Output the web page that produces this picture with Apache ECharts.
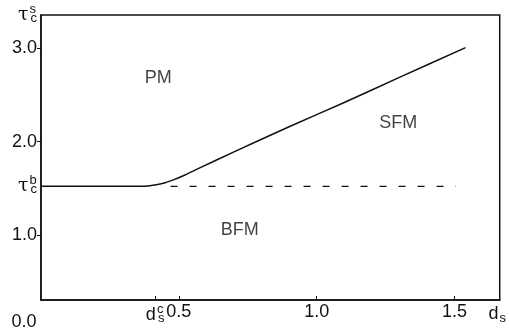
<!DOCTYPE html>
<html>
<head>
<meta charset="utf-8">
<script src="https://cdn.jsdelivr.net/npm/echarts@6/dist/echarts.min.js"></script>
<style>
html, body { margin: 0; padding: 0; background: #fff; }
#chart { width: 509px; height: 331px; }
</style>
</head>
<body>
<div id="chart"></div>
<script>
// phase boundary tau_c^s(d_s)
var boundaryX = [0, 0.30, 0.36, 0.40, 0.44, 0.48, 0.52, 0.57, 0.70, 0.90, 1.10, 1.30, 1.54];
var boundaryY = [1.52, 1.52, 1.52, 1.53, 1.55, 1.59, 1.64, 1.71, 1.89, 2.16, 2.42, 2.69, 3.01];
// dashed tau_c^b level
var dashX = [0.47, 1.505];
var dashY = [1.52, 1.52];
// region names
var regionNames = ['PM', 'SFM', 'BFM'];
var regionX = [0.425, 1.296, 0.721];
var regionY = [2.68, 2.20, 1.053];
// axis ticks / labels
var tauB = 1.52, tauS = 3.36, dsC = 0.414;
var yTicks = [1.0, 2.0, 3.0];
var xTicks = [dsC, 0.5, 1.0, 1.5];
var xMin = 0, xMax = 1.664, yMin = 0.3, yMax = 3.36;

function pairs(xs, ys) {
  var out = [];
  for (var i = 0; i < xs.length; i++) out.push([xs[i], ys[i]]);
  return out;
}

var myChart = echarts.init(document.getElementById('chart'));
var font = 'Liberation Sans';
// sup gets a ~zero width so the sub sits right under it (stacked indices)
var rich = {
  b: { fontSize: 19, fontFamily: 'DejaVu Serif', color: '#111', align: 'left' },
  d: { fontSize: 18, fontFamily: font, color: '#111', align: 'left' },
  sup: { fontSize: 13, fontFamily: font, color: '#111', align: 'left', verticalAlign: 'bottom', padding: [0, 0, 11, 1], width: 0.01 },
  sub: { fontSize: 13, fontFamily: font, color: '#111', align: 'left', verticalAlign: 'top', padding: [9, 0, 0, 1] },
  z: { fontSize: 18, fontFamily: font, color: '#111', padding: [10, 34, 0, 0] }
};

var regionData = [];
for (var i = 0; i < regionNames.length; i++) {
  regionData.push({ name: regionNames[i], value: [regionX[i], regionY[i]] });
}

var option = {
  animation: false,
  backgroundColor: '#fff',
  grid: {
    show: true,
    left: 41, right: 2, top: 15, bottom: 28,
    borderColor: '#111',
    borderWidth: 1.5
  },
  xAxis: {
    type: 'value',
    min: xMin, max: xMax,
    splitLine: { show: false },
    axisLine: { lineStyle: { color: '#111', width: 1.5 } },
    axisTick: { inside: true, length: 4, customValues: xTicks, lineStyle: { color: '#111' } },
    axisLabel: {
      customValues: [0, dsC, 0.5, 1.0, 1.5, 1.655],
      margin: 3,
      color: '#111',
      fontSize: 18,
      fontFamily: font,
      formatter: function (v) {
        if (v === 0) return '{z|0.0}';
        if (v === dsC) return '{d|d}{sup|c}{sub|s}';
        if (v === 1.655) return '{d|d}{sub|s}';
        return v.toFixed(1);
      },
      rich: rich
    }
  },
  yAxis: {
    type: 'value',
    min: yMin, max: yMax,
    splitLine: { show: false },
    axisLine: { lineStyle: { color: '#111', width: 1.5 } },
    axisTick: { length: 4, customValues: yTicks, lineStyle: { color: '#111' } },
    axisLabel: {
      customValues: [1.0, tauB, 2.0, 3.0, tauS],
      margin: 4,
      color: '#111',
      fontSize: 18,
      fontFamily: font,
      formatter: function (v) {
        if (v === tauB) return '{b|τ}{sup|b}{sub|c}';
        if (v === tauS) return '{b|τ}{sup|s}{sub|c}';
        return v.toFixed(1);
      },
      rich: rich
    }
  },
  series: [{
    type: 'line',
    data: pairs(boundaryX, boundaryY),
    smooth: 0.3,
    symbol: 'none',
    lineStyle: { color: '#111', width: 1.5 }
  }, {
    type: 'line',
    data: pairs(dashX, dashY),
    symbol: 'none',
    lineStyle: { color: '#111', width: 1.2, type: [7, 12] }
  }, {
    type: 'scatter',
    data: regionData,
    symbolSize: 0,
    label: {
      show: true,
      position: 'inside',
      formatter: '{b}',
      color: '#111',
      fontSize: 18,
      fontFamily: font
    }
  }]
};

myChart.setOption(option);
window.addEventListener('resize', function () { myChart.resize(); });
</script>
</body>
</html>
